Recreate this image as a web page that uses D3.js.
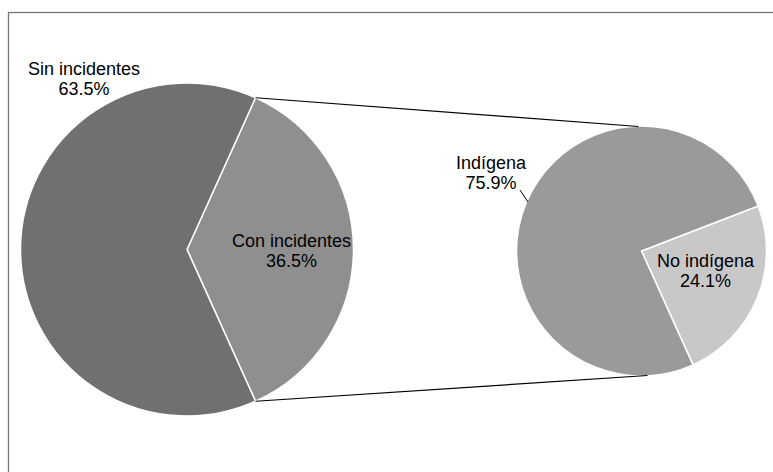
<!DOCTYPE html>
<html>
<head>
<meta charset="utf-8">
<script src="https://cdn.jsdelivr.net/npm/d3@7"></script>
<style>
  html, body { margin: 0; padding: 0; background: #fff; }
  svg { display: block; }
  text { font-family: "Liberation Sans", Arial, sans-serif; font-size: 18px; fill: #000; }
</style>
</head>
<body>
<svg id="chart" width="773" height="472"></svg>
<script>
// Data
const mainCategories = ["Con incidentes", "Sin incidentes"];
const mainValues = [36.5, 63.5];
const subCategories = ["No indígena", "Indígena"];
const subValues = [24.1, 75.9];
const mainColors = ["#8f8f8f", "#707070"];
const subColors = ["#c8c8c8", "#9a9a9a"];

const svg = d3.select("#chart");
const W = 773, H = 472;

// frame (only top and left visible)
svg.append("rect").attr("x", 8.5).attr("y", 12.5).attr("width", 800).attr("height", 500)
  .attr("fill", "none").attr("stroke", "#767676").attr("stroke-width", 1.3);

const deg = Math.PI / 180;

// main pie
const m = { cx: 187, cy: 249.5, r: 166.5 };
const conSpan = mainValues[0] / d3.sum(mainValues) * 2 * Math.PI;
const mainStart = Math.PI / 2 - conSpan / 2;
const mainPie = d3.pie().sort(null).value(d => d)
  .startAngle(mainStart).endAngle(mainStart + 2 * Math.PI);
const mainArcs = mainPie(mainValues);
const mainArc = d3.arc().innerRadius(0).outerRadius(m.r);

const gm = svg.append("g").attr("transform", `translate(${m.cx},${m.cy})`);
gm.selectAll("path").data(mainArcs).enter().append("path")
  .attr("d", mainArc)
  .attr("fill", (d, i) => mainColors[i])
  .attr("stroke", "#fff").attr("stroke-width", 1.5).attr("stroke-linejoin", "round");

// second pie
const s = { cx: 641.5, cy: 251, r: 125 };
const subStart = 68.9 * deg;
const subPie = d3.pie().sort(null).value(d => d)
  .startAngle(subStart).endAngle(subStart + 2 * Math.PI);
const subArcs = subPie(subValues);
const subArc = d3.arc().innerRadius(0).outerRadius(s.r);
const gs = svg.append("g").attr("transform", `translate(${s.cx},${s.cy})`);
gs.selectAll("path").data(subArcs).enter().append("path")
  .attr("d", subArc)
  .attr("fill", (d, i) => subColors[i])
  .attr("stroke", "#fff").attr("stroke-width", 1.5).attr("stroke-linejoin", "round");

// connector lines
const pt = (c, a) => [c.cx + c.r * Math.sin(a), c.cy - c.r * Math.cos(a)];
const p1 = pt(m, mainArcs[0].startAngle);
const p2 = pt(m, mainArcs[0].endAngle);
svg.append("line").attr("x1", p1[0]).attr("y1", p1[1]).attr("x2", s.cx - 3).attr("y2", s.cy - s.r + 0.5)
  .attr("stroke", "#000").attr("stroke-width", 1.2);
svg.append("line").attr("x1", p2[0]).attr("y1", p2[1]).attr("x2", s.cx + 6).attr("y2", s.cy + s.r - 0.5)
  .attr("stroke", "#000").attr("stroke-width", 1.2);

// labels
function label(x, y, lines) {
  const t = svg.append("text").attr("text-anchor", "middle");
  lines.forEach((l, i) => t.append("tspan").attr("x", x).attr("y", y + i * 20).text(l));
}
const fmt = v => v.toFixed(1) + "%";
label(84, 75, [mainCategories[1], fmt(mainValues[1])]);
label(291.5, 246.5, [mainCategories[0], fmt(mainValues[0])]);
label(491, 169, [subCategories[1], fmt(subValues[1])]);
label(705.5, 266.5, [subCategories[0], fmt(subValues[0])]);

// leader line for Indígena
svg.append("line").attr("x1", 520).attr("y1", 190).attr("x2", 528).attr("y2", 202)
  .attr("stroke", "#000").attr("stroke-width", 1);
</script>
</body>
</html>
